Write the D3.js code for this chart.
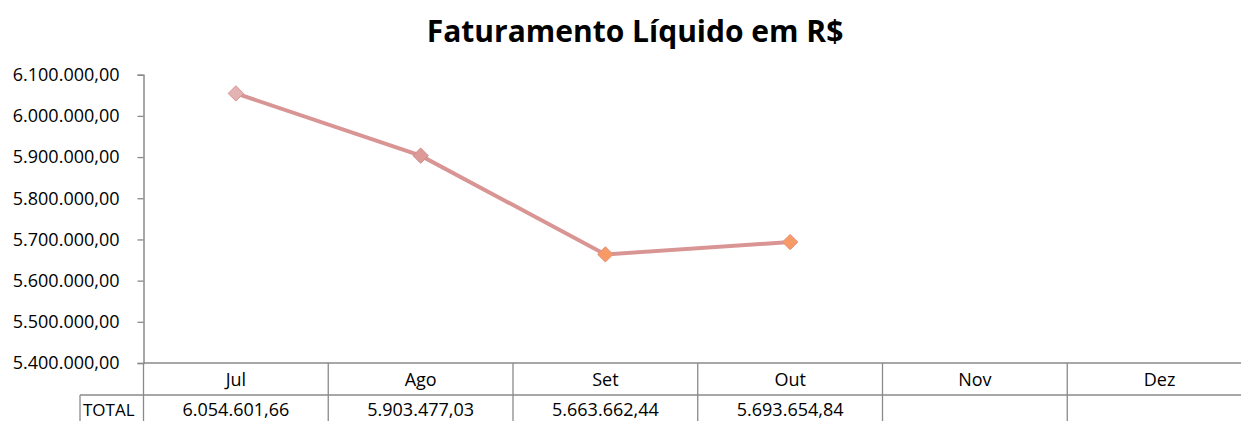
<!DOCTYPE html>
<html lang="pt">
<head>
    <meta charset="UTF-8">
    <title>Faturamento Líquido em R$</title>
    <script src="https://d3js.org/d3.v7.min.js"></script>
    <style>
        body { margin: 0; background: #fff; }
        text { font-family: "Open Sans", sans-serif; fill: #000; }
        .grid { stroke: #8a8a8a; stroke-width: 1.3px; }
        .line { fill: none; stroke: #d99594; stroke-width: 4px; }
    </style>
</head>
<body>
<svg width="1241" height="421"></svg>

<script>
    // data
    const months = ["Jul", "Ago", "Set", "Out", "Nov", "Dez"];
    const totals = [6054601.66, 5903477.03, 5663662.44, 5693654.84, null, null];
    const yTicks = [5400000, 5500000, 5600000, 5700000, 5800000, 5900000, 6000000, 6100000];
    const markerFill = ["#e2b3b2", "#dc9a98", "#f79a66", "#f79a66"];
    const markerStroke = ["#d99594", "#d48a88", "#e3917c", "#e3917c"];

    const svg = d3.select("svg");
    const plotLeft = 143.5, plotRight = 1252, plotTop = 74.7, plotBottom = 363;
    const rowH = 32;

    const x = d3.scaleBand().domain(months).range([plotLeft, plotRight]);
    const y = d3.scaleLinear().domain([5400000, 6100000]).range([plotBottom, plotTop]);

    const fmt = v => v.toLocaleString("pt-BR", { minimumFractionDigits: 2, maximumFractionDigits: 2 });

    // title
    svg.append("text")
        .attr("x", 635).attr("y", 42)
        .attr("text-anchor", "middle")
        .style("font-size", "30px").style("font-weight", "bold")
        .text("Faturamento Líquido em R$");

    // y axis
    const yAxis = d3.axisLeft(y).tickValues(yTicks).tickSize(6).tickPadding(18).tickFormat(fmt);
    const ag = svg.append("g").attr("transform", `translate(${plotLeft},0)`).call(yAxis);
    ag.select(".domain").attr("stroke", "#8a8a8a").attr("stroke-width", 1.5);
    ag.selectAll(".tick line").attr("stroke", "#8a8a8a").attr("stroke-width", 1.3);
    ag.selectAll(".tick text").style("font-size", "18px").style("font-family", "'Open Sans', sans-serif").attr("fill", "#000");

    // data table below the plot
    const g = svg.append("g");
    g.append("line").attr("class", "grid").attr("x1", plotLeft).attr("x2", plotRight).attr("y1", plotBottom).attr("y2", plotBottom);
    g.append("line").attr("class", "grid").attr("x1", 80).attr("x2", plotRight).attr("y1", plotBottom + rowH).attr("y2", plotBottom + rowH);
    g.append("line").attr("class", "grid").attr("x1", 80).attr("x2", 80).attr("y1", plotBottom + rowH).attr("y2", 430);
    g.selectAll(".col").data(months).enter().append("line")
        .attr("class", "grid")
        .attr("x1", d => x(d) + x.bandwidth()).attr("x2", d => x(d) + x.bandwidth())
        .attr("y1", plotBottom).attr("y2", 430);
    g.append("line").attr("class", "grid").attr("x1", plotLeft).attr("x2", plotLeft).attr("y1", plotBottom).attr("y2", 430);

    g.selectAll(".cat").data(months).enter().append("text")
        .attr("x", d => x(d) + x.bandwidth() / 2).attr("y", plotBottom + 23)
        .attr("text-anchor", "middle").style("font-size", "18px")
        .text(d => d);

    g.append("text").attr("x", 83).attr("y", plotBottom + rowH + 21).style("font-size", "17px").text("TOTAL");

    g.selectAll(".val").data(months.map((m, i) => ({ m, v: totals[i] })).filter(d => d.v != null))
        .enter().append("text")
        .attr("x", d => x(d.m) + x.bandwidth() / 2).attr("y", plotBottom + rowH + 21)
        .attr("text-anchor", "middle").style("font-size", "18px")
        .text(d => fmt(d.v));

    // series
    const pts = months.map((m, i) => ({ m, v: totals[i], i })).filter(d => d.v != null);
    const cx = d => x(d.m) + x.bandwidth() / 2;

    svg.append("path").datum(pts).attr("class", "line")
        .attr("d", d3.line().x(cx).y(d => y(d.v)));

    svg.selectAll(".marker").data(pts).enter().append("path")
        .attr("d", d3.symbol().type(d3.symbolDiamond2).size(150))
        .attr("transform", d => `translate(${cx(d)},${y(d.v)})`)
        .attr("fill", d => markerFill[d.i])
        .attr("stroke", d => markerStroke[d.i])
        .attr("stroke-width", 1);
</script>
</body>
</html>
